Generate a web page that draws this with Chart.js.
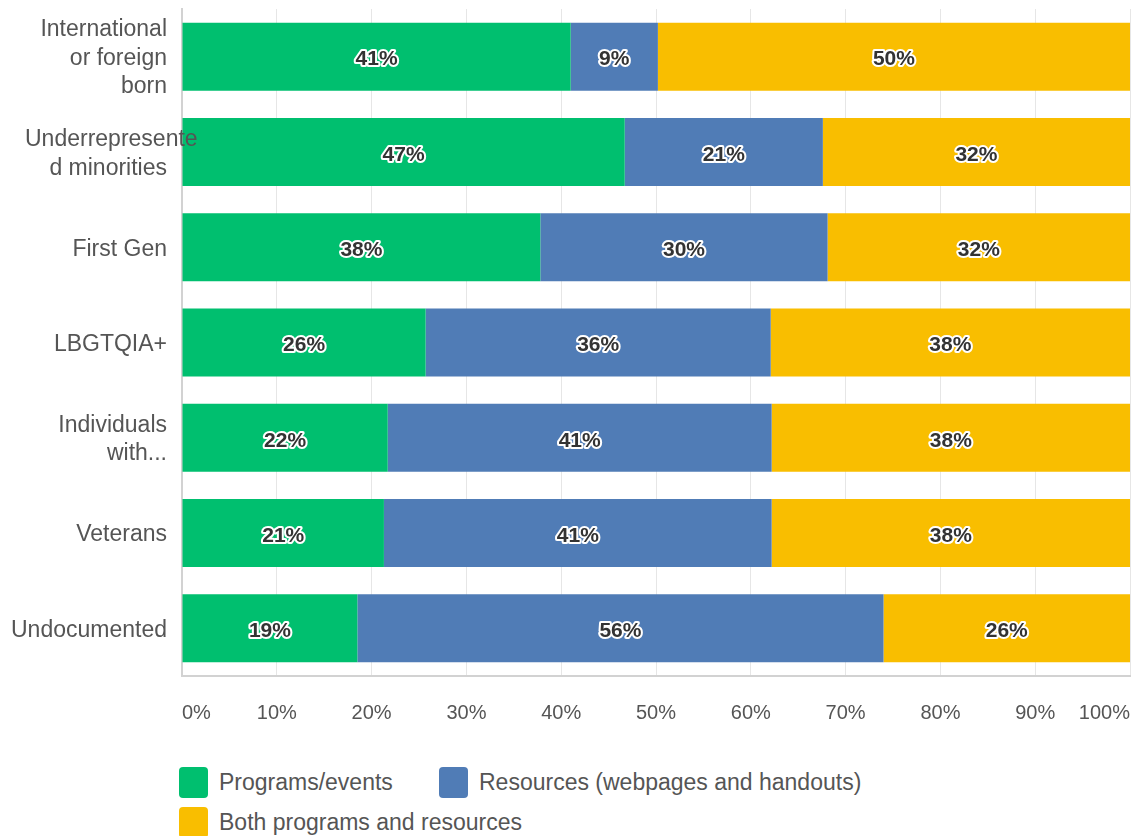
<!DOCTYPE html>
<html lang="en">

<head>
    <meta charset="UTF-8">
    <script src="https://cdn.jsdelivr.net/npm/chart.js"></script>
    <title>Support preference by student group</title>
    <style>
        body {
            margin: 0;
            background: #fff;
            font-family: "Liberation Sans", Arial, sans-serif;
        }

        #wrap {
            position: relative;
            width: 1134px;
            height: 836px;
            overflow: hidden;
        }

        #chartBox {
            position: absolute;
            left: 0;
            top: 0;
            width: 1134px;
            height: 740px;
        }

        #legend {
            position: absolute;
            left: 179px;
            top: 767px;
            width: 720px;
        }

        .item {
            position: absolute;
            display: flex;
            align-items: center;
            color: #555;
            font-size: 23px;
            white-space: nowrap;
        }

        .swatch {
            width: 29px;
            height: 31px;
            border-radius: 4px;
            margin-right: 11px;
        }
    </style>
</head>

<body>
    <div id="wrap">
        <div id="chartBox"><canvas id="grafico"></canvas></div>
        <div id="legend"></div>
    </div>

    <script>
        // groups, one bar each (lines as they wrap in the axis)
        const categorias = [
            ["International", "or foreign", "born"],
            ["Underrepresente", "d minorities"],
            ["First Gen"],
            ["LBGTQIA+"],
            ["Individuals", "with..."],
            ["Veterans"],
            ["Undocumented"]
        ];

        const nomesSeries = ["Programs/events", "Resources (webpages and handouts)", "Both programs and resources"];
        const coresSeries = ["#00bf6f", "#507cb6", "#f9be00"];

        // share of answers, percent
        const programas = [41.0, 46.7, 37.8, 25.7, 21.7, 21.3, 18.5];
        const recursos = [9.2, 20.9, 30.3, 36.4, 40.5, 40.9, 55.5];
        const ambos = [49.8, 32.4, 31.9, 37.9, 37.8, 37.8, 26.0];

        const ticksX = [0, 10, 20, 30, 40, 50, 60, 70, 80, 90, 100];

        // percent text in the middle of each segment, white outline
        const rotulosValores = {
            id: 'rotulosValores',
            afterDatasetsDraw(chart) {
                const ctx = chart.ctx;
                ctx.save();
                ctx.font = 'bold 21px "Liberation Sans", Arial, sans-serif';
                ctx.textAlign = 'center';
                ctx.textBaseline = 'middle';
                ctx.lineJoin = 'round';
                chart.data.datasets.forEach((ds, i) => {
                    chart.getDatasetMeta(i).data.forEach((barra, j) => {
                        const p = barra.getProps(['x', 'y', 'base'], true);
                        const texto = Math.round(ds.data[j]) + '%';
                        const cx = (p.x + p.base) / 2;
                        ctx.lineWidth = 4;
                        ctx.strokeStyle = '#fff';
                        ctx.strokeText(texto, cx, p.y + 3);
                        ctx.fillStyle = '#333';
                        ctx.fillText(texto, cx, p.y + 3);
                    });
                });
                ctx.restore();
            }
        };

        // category names: right aligned at the axis, a too long word starts at the left edge instead
        const rotulosCategorias = {
            id: 'rotulosCategorias',
            afterDraw(chart) {
                const ctx = chart.ctx;
                const eixoY = chart.scales.y;
                const esq = 25, dir = 167, alturaLinha = 28.5;
                ctx.save();
                ctx.font = '23px "Liberation Sans", Arial, sans-serif';
                ctx.fillStyle = '#555';
                ctx.textBaseline = 'middle';
                categorias.forEach((linhas, j) => {
                    const yc = eixoY.getPixelForTick(j) + 2;
                    const y0 = yc - (linhas.length - 1) * alturaLinha / 2;
                    linhas.forEach((linha, k) => {
                        const w = ctx.measureText(linha).width;
                        if (w > 162) {
                            ctx.textAlign = 'left';
                            ctx.fillText(linha, esq, y0 + k * alturaLinha);
                        } else {
                            ctx.textAlign = 'right';
                            ctx.fillText(linha, dir, y0 + k * alturaLinha);
                        }
                    });
                });
                ctx.restore();
            }
        };

        const series = [programas, recursos, ambos];

        new Chart(document.getElementById('grafico'), {
            type: 'bar',
            data: {
                labels: categorias.map(c => c.join(' ')),
                datasets: series.map((dados, i) => ({
                    label: nomesSeries[i],
                    data: dados,
                    backgroundColor: coresSeries[i],
                    borderWidth: 0,
                    categoryPercentage: 1,
                    barPercentage: 0.714
                }))
            },
            options: {
                indexAxis: 'y',
                responsive: true,
                maintainAspectRatio: false,
                animation: false,
                layout: { padding: { top: 9, right: 4, bottom: 16, left: 0 } },
                plugins: {
                    legend: { display: false },
                    tooltip: { enabled: false }
                },
                scales: {
                    x: {
                        stacked: true,
                        min: 0,
                        max: 100,
                        afterBuildTicks: (escala) => {
                            escala.ticks = ticksX.map(v => ({ value: v }));
                        },
                        afterFit: (escala) => {
                            escala.height = 48;
                            escala.paddingLeft = 0;
                            escala.paddingRight = 0;
                            escala.paddingTop = 0;
                            escala.paddingBottom = 0;
                        },
                        grid: { color: '#e6e6e6', drawTicks: false },
                        border: { display: true, color: '#d2d2d2', width: 2 },
                        ticks: {
                            padding: 25,
                            align: 'inner',
                            maxRotation: 0,
                            autoSkip: false,
                            color: '#555',
                            font: { family: '"Liberation Sans", Arial, sans-serif', size: 20 },
                            callback: v => v + '%'
                        }
                    },
                    y: {
                        stacked: true,
                        afterFit: (escala) => {
                            escala.width = 182;
                            escala.paddingTop = 0;
                            escala.paddingBottom = 0;
                        },
                        grid: { display: false },
                        border: { display: true, color: '#d2d2d2', width: 2 },
                        ticks: { display: false }
                    }
                }
            },
            plugins: [rotulosValores, rotulosCategorias]
        });

        // legend: two items on the first row, the third below
        const legenda = document.getElementById('legend');
        const posicoes = [[0, 0], [260, 0], [0, 40]];
        nomesSeries.forEach((nome, i) => {
            const item = document.createElement('div');
            item.className = 'item';
            item.style.left = posicoes[i][0] + 'px';
            item.style.top = posicoes[i][1] + 'px';
            item.innerHTML = `<span class="swatch" style="background:${coresSeries[i]}"></span>${nome}`;
            legenda.appendChild(item);
        });
    </script>
</body>

</html>
